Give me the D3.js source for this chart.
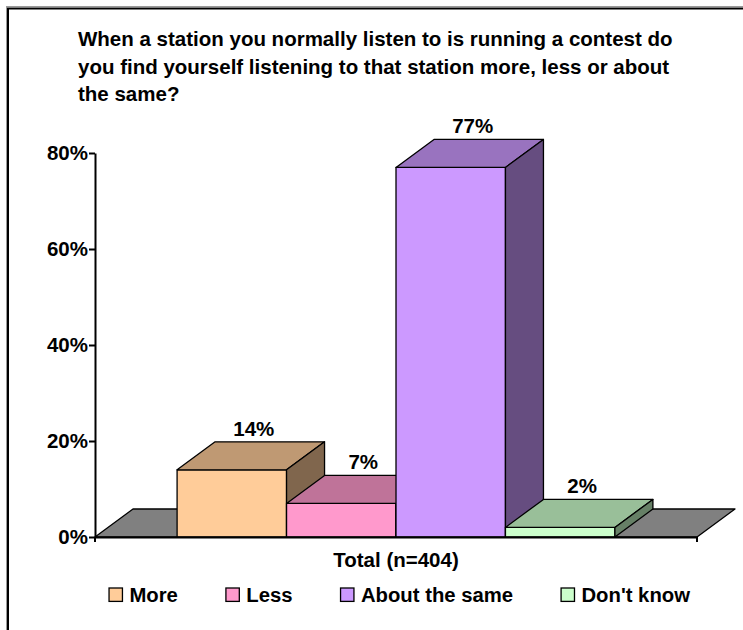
<!DOCTYPE html>
<html>
<head>
<meta charset="utf-8">
<script src="https://cdn.jsdelivr.net/npm/d3@7"></script>
<style>
  html, body { margin: 0; padding: 0; background: #fff; }
  svg { display: block; }
  text { font-family: "Liberation Sans", Arial, sans-serif; font-weight: bold; fill: #000; }
</style>
</head>
<body>
<svg id="chart" width="743" height="630"></svg>
<script>
// Survey results: one category, four answer series
const titleLines = [
  "When a station you normally listen to is running a contest do",
  "you find yourself listening to that station more, less or about",
  "the same?"
];
const categories = ["Total (n=404)"];
const seriesNames = ["More", "Less", "About the same", "Don't know"];
const values = [14, 7, 77, 2];
const seriesColors = ["#FFCC99", "#FF99CC", "#CC99FF", "#CCFFCC"];
const yTicks = [0, 20, 40, 60, 80];

const svg = d3.select("#chart");

// Frame around the chart area (runs off the right and bottom edges)
svg.append("rect").attr("x", 6.5).attr("y", 6.5).attr("width", 800).attr("height", 700)
  .attr("fill", "none").attr("stroke", "#9a9a9a").attr("stroke-width", 1);
svg.append("rect").attr("x", 8).attr("y", 8.5).attr("width", 800).attr("height", 700)
  .attr("fill", "none").attr("stroke", "#000").attr("stroke-width", 2);

// Title
svg.append("text").attr("x", 78).attr("y", 46)
  .style("font-size", "20.5px")
  .selectAll("tspan").data(titleLines).join("tspan")
  .attr("x", 78).attr("dy", (d, i) => i === 0 ? 0 : 27.5)
  .text(d => d);

// Plot geometry: front plane plus an oblique depth offset
const plotLeft = 95, plotRight = 697, plotBottom = 537, plotTop = 153;
const depthX = 38, depthY = -28;

const y = d3.scaleLinear().domain([0, 80]).range([plotBottom, plotTop]);
const x0 = d3.scaleBand().domain(categories).range([plotLeft, plotRight])
  .paddingInner(0).paddingOuter(0.1875);
const x1 = d3.scaleBand().domain(seriesNames).range([0, x0.bandwidth()]).padding(0);

function shade(c, k) {
  const r = d3.rgb(c);
  return d3.rgb(r.r * k, r.g * k, r.b * k).formatHex();
}
const pointList = pts => pts.map(p => p.join(",")).join(" ");

// Floor
const floorPts = [[plotLeft, plotBottom], [plotLeft + depthX, plotBottom + depthY],
                  [plotRight + depthX, plotBottom + depthY], [plotRight, plotBottom]];
svg.append("polygon").attr("points", pointList(floorPts))
  .attr("fill", "#808080").attr("stroke", "#000").attr("stroke-width", 1.3)
  .attr("stroke-linejoin", "round");

// Bars drawn left to right so later boxes overlap earlier side faces
const cat = categories[0];
const bars = seriesNames.map((name, i) => ({
  name, value: values[i], color: seriesColors[i],
  xa: x0(cat) + x1(name), xb: x0(cat) + x1(name) + x1.bandwidth(),
  yt: y(values[i]), yb: y(0)
}));

const gBars = svg.append("g");
bars.forEach(b => {
  const g = gBars.append("g");
  g.append("polygon")
    .attr("points", pointList([[b.xa, b.yb], [b.xa, b.yt], [b.xb, b.yt], [b.xb, b.yb]]))
    .attr("fill", b.color);
  g.append("polygon")
    .attr("points", pointList([[b.xa, b.yt], [b.xa + depthX, b.yt + depthY],
                               [b.xb + depthX, b.yt + depthY], [b.xb, b.yt]]))
    .attr("fill", shade(b.color, 0.75));
  g.append("polygon")
    .attr("points", pointList([[b.xb, b.yb], [b.xb, b.yt], [b.xb + depthX, b.yt + depthY],
                               [b.xb + depthX, b.yb + depthY]]))
    .attr("fill", shade(b.color, 0.5));
  g.selectAll("polygon").attr("stroke", "#000").attr("stroke-width", 1.3)
    .attr("stroke-linejoin", "round");
});

// Value labels above each box
svg.append("g").selectAll("text").data(bars).join("text")
  .attr("x", d => (d.xa + d.xb) / 2 + depthX / 2 + 3)
  .attr("y", d => d.yt + depthY - 6)
  .attr("text-anchor", "middle")
  .style("font-size", "20.5px")
  .text(d => d.value + "%");

// Value axis
const yAxis = svg.append("g").attr("transform", `translate(${plotLeft},0)`)
  .call(d3.axisLeft(y).tickValues(yTicks).tickFormat(d => d + "%")
    .tickSize(6).tickSizeOuter(0).tickPadding(1));
yAxis.selectAll("path, line").attr("stroke", "#000").attr("stroke-width", 2);
yAxis.selectAll("text").style("font-size", "20.5px")
  .style("font-family", "'Liberation Sans', Arial, sans-serif").style("font-weight", "bold")
  .attr("fill", "#000");

// Category axis along the front edge of the floor
const xAxis = svg.append("g").attr("transform", `translate(0,${plotBottom})`)
  .call(d3.axisBottom(x0).tickSize(0).tickPadding(0).tickFormat(""));
xAxis.select(".domain").attr("stroke", "#000").attr("stroke-width", 2);
svg.append("g").selectAll("line").data(x0.range()).join("line")
  .attr("x1", d => d).attr("x2", d => d)
  .attr("y1", plotBottom).attr("y2", plotBottom + 5)
  .attr("stroke", "#000").attr("stroke-width", 2);
svg.append("text")
  .attr("x", x0(cat) + x0.bandwidth() / 2).attr("y", 567)
  .attr("text-anchor", "middle").style("font-size", "20.5px")
  .text(cat);

// Legend
const legend = svg.append("g");
const sq = 13.4, sqGap = 7, itemGap = 48;
const items = legend.selectAll("g").data(seriesNames).join("g");
items.append("rect").attr("width", sq).attr("height", sq).attr("y", 588)
  .attr("fill", (d, i) => seriesColors[i]).attr("stroke", "#000").attr("stroke-width", 1.3);
items.append("text").attr("x", sq + sqGap).attr("y", 601.5)
  .style("font-size", "20.3px").text(d => d);
const widths = [];
items.each(function () { widths.push(sq + sqGap + this.querySelector("text").getComputedTextLength()); });
const total = d3.sum(widths) + itemGap * (widths.length - 1);
let cx = 399.5 - total / 2;
items.each(function (d, i) {
  d3.select(this).attr("transform", `translate(${cx},0)`);
  cx += widths[i] + itemGap;
});
</script>
</body>
</html>
